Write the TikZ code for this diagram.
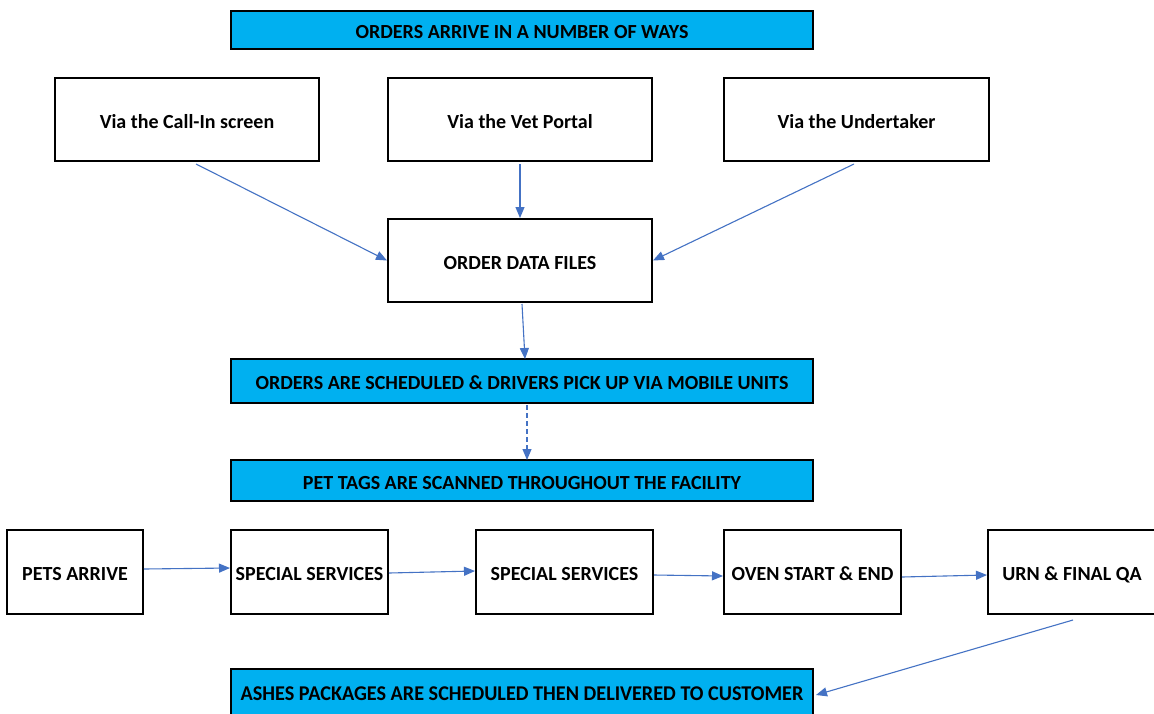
\documentclass[tikz,border=0pt]{standalone}
\usepackage{fontspec}
\setmainfont{Carlito}
\usetikzlibrary{arrows.meta}
\definecolor{bannercyan}{HTML}{00B0F0}
\definecolor{arrowblue}{HTML}{4472C4}
\tikzset{
  boxnode/.style={draw=black, line width=2pt, rectangle, inner sep=0pt,
    text height=17pt, text depth=0pt,
    font=\fontsize{20}{24}\selectfont\bfseries, text=black},
  bannernode/.style={boxnode, fill=bannercyan},
  flowarrow/.style={draw=arrowblue, line width=1.1pt, -{Triangle[length=11pt,width=9pt]}},
  dashedarrow/.style={flowarrow, dashed, dash pattern=on 5pt off 3pt}
}
\begin{document}
\begin{tikzpicture}[x=1pt,y=-1pt]
\path[use as bounding box] (0,0) rectangle (1154,713);
\clip (0,0) rectangle (1154,713);
\fill[white] (0,0) rectangle (1154,713);

\node[bannernode, minimum width=582pt, minimum height=38pt] (b1) at (522,30) {ORDERS ARRIVE IN A NUMBER OF WAYS};
\node[boxnode, minimum width=264pt, minimum height=83pt] (callin) at (187,119.5) {Via the Call-In screen};
\node[boxnode, minimum width=264pt, minimum height=83pt] (vet) at (520,119.5) {Via the Vet Portal};
\node[boxnode, minimum width=265pt, minimum height=83pt] (und) at (856.5,119.5) {Via the Undertaker};
\node[boxnode, minimum width=264pt, minimum height=83pt] (odf) at (520,260.5) {ORDER DATA FILES};
\node[bannernode, minimum width=582pt, minimum height=44pt] (b2) at (522,381) {ORDERS ARE SCHEDULED \& DRIVERS PICK UP VIA MOBILE UNITS};
\node[bannernode, minimum width=582pt, minimum height=41pt] (b3) at (522,480.5) {PET TAGS ARE SCANNED THROUGHOUT THE FACILITY};

\node[boxnode, minimum width=136pt, minimum height=84pt] (pets) at (75,572) {PETS ARRIVE};
\node[boxnode, minimum width=157pt, minimum height=84pt] (ss1) at (309.5,572) {SPECIAL SERVICES};
\node[boxnode, minimum width=177pt, minimum height=84pt] (ss2) at (564.5,572) {SPECIAL SERVICES};
\node[boxnode, minimum width=177pt, minimum height=84pt] (oven) at (812.5,572) {OVEN START \& END};
\node[boxnode, minimum width=168pt, minimum height=84pt] (urn) at (1072,572) {URN \& FINAL QA};

\node[bannernode, minimum width=582pt, minimum height=46pt] (b4) at (522,692) {\scalebox{1.01}[1.05]{ASHES PACKAGES ARE SCHEDULED THEN DELIVERED TO CUSTOMER}};

\draw[flowarrow] ([xshift=9pt,yshift=-2pt]callin.south) -- (odf.west);
\draw[flowarrow] ([yshift=-2pt]vet.south) -- (odf.north);
\draw[flowarrow] ([xshift=-2.5pt,yshift=-2pt]und.south) -- (odf.east);
\draw[flowarrow] ([xshift=2pt,yshift=-1pt]odf.south) -- ([xshift=3pt,yshift=-1pt]b2.north);
\draw[dashedarrow] ([xshift=5pt,yshift=-1pt]b2.south) -- ([xshift=5pt,yshift=-1pt]b3.north);

\draw[flowarrow] ([yshift=3pt]pets.east) -- ([yshift=4pt]ss1.west);
\draw[flowarrow] ([yshift=-1pt]ss1.east) -- ([yshift=1pt]ss2.west);
\draw[flowarrow] ([yshift=-3pt]ss2.east) -- ([yshift=-4pt]oven.west);
\draw[flowarrow] ([yshift=-5pt]oven.east) -- ([yshift=-3pt]urn.west);
\draw[flowarrow] ([xshift=1pt,yshift=-5pt]urn.south) -- ([xshift=2pt,yshift=-3pt]b4.east);
\end{tikzpicture}
\end{document}
